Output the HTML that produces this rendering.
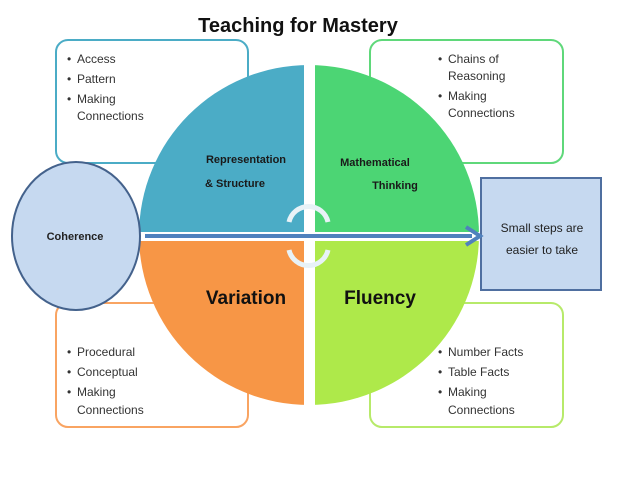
<!DOCTYPE html>
<html><head><style>
body{margin:0;background:#fff;}
svg text{font-family:"Liberation Sans",sans-serif;}
</style></head><body>
<svg width="628" height="472" viewBox="0 0 628 472" xmlns="http://www.w3.org/2000/svg">
<rect width="628" height="472" fill="#fff"/>
<text x="298" y="32" font-size="20" font-weight="bold" text-anchor="middle" fill="#111">Teaching for Mastery</text>
<rect x="56" y="40" width="192" height="123" rx="12" fill="#fff" stroke="#4bacc6" stroke-width="2"/>
<rect x="370" y="40" width="193" height="123" rx="12" fill="#fff" stroke="#5fd87a" stroke-width="2"/>
<rect x="56" y="303" width="192" height="124" rx="12" fill="#fff" stroke="#f9a462" stroke-width="2"/>
<rect x="370" y="303" width="193" height="124" rx="12" fill="#fff" stroke="#b7ea6a" stroke-width="2"/>
<clipPath id="c"><ellipse cx="309" cy="235" rx="170" ry="170"/></clipPath>
<g clip-path="url(#c)">
<rect x="130" y="60" width="174" height="172" fill="#4bacc6"/>
<rect x="315" y="60" width="174" height="172" fill="#4cd574"/>
<rect x="130" y="241" width="174" height="170" fill="#f79646"/>
<rect x="315" y="241" width="174" height="170" fill="#aee94a"/>
</g>
<text x="246" y="163" font-size="11" font-weight="bold" text-anchor="middle" fill="#1a1a1a">Representation</text>
<text x="235" y="187" font-size="11" font-weight="bold" text-anchor="middle" fill="#1a1a1a">&amp; Structure</text>
<text x="375" y="166" font-size="11" font-weight="bold" text-anchor="middle" fill="#1a1a1a">Mathematical</text>
<text x="395" y="189" font-size="11" font-weight="bold" text-anchor="middle" fill="#1a1a1a">Thinking</text>
<text x="246" y="304" font-size="19" font-weight="bold" text-anchor="middle" fill="#111">Variation</text>
<text x="380" y="304" font-size="19" font-weight="bold" text-anchor="middle" fill="#111">Fluency</text>
<path d="M289 222 A20 20 0 0 1 328 222" fill="none" stroke="#e8f2f7" stroke-width="5"/>
<path d="M328 250 A20 20 0 0 1 289 250" fill="none" stroke="#e8f2f7" stroke-width="5"/>
<ellipse cx="76" cy="236" rx="64" ry="74" fill="#c6d9f0" stroke="#44628c" stroke-width="2"/>
<text x="75" y="240" font-size="11" font-weight="bold" text-anchor="middle" fill="#222">Coherence</text>
<rect x="481" y="178" width="120" height="112" fill="#c6d9f0" stroke="#4f6fa0" stroke-width="2"/>
<text x="542" y="232" font-size="12" text-anchor="middle" fill="#222">Small steps are</text>
<text x="542" y="254" font-size="12" text-anchor="middle" fill="#222">easier to take</text>
<line x1="145" y1="236" x2="472" y2="236" stroke="#fff" stroke-width="8"/>
<line x1="145" y1="236" x2="472" y2="236" stroke="#4f81bd" stroke-width="4"/>
<path d="M466 227 L480 236 L466 245" fill="none" stroke="#4f81bd" stroke-width="4"/>
<g font-size="12" fill="#333">
<text x="67" y="63">•</text><text x="77" y="63">Access</text>
<text x="67" y="83">•</text><text x="77" y="83">Pattern</text>
<text x="67" y="103">•</text><text x="77" y="103">Making</text>
<text x="77" y="120">Connections</text>
<text x="438" y="63">•</text><text x="448" y="63">Chains of</text>
<text x="448" y="80">Reasoning</text>
<text x="438" y="100">•</text><text x="448" y="100">Making</text>
<text x="448" y="117">Connections</text>
<text x="67" y="356">•</text><text x="77" y="356">Procedural</text>
<text x="67" y="376">•</text><text x="77" y="376">Conceptual</text>
<text x="67" y="396">•</text><text x="77" y="396">Making</text>
<text x="77" y="414">Connections</text>
<text x="438" y="356">•</text><text x="448" y="356">Number Facts</text>
<text x="438" y="376">•</text><text x="448" y="376">Table Facts</text>
<text x="438" y="396">•</text><text x="448" y="396">Making</text>
<text x="448" y="414">Connections</text>
</g>
</svg>
</body></html>
